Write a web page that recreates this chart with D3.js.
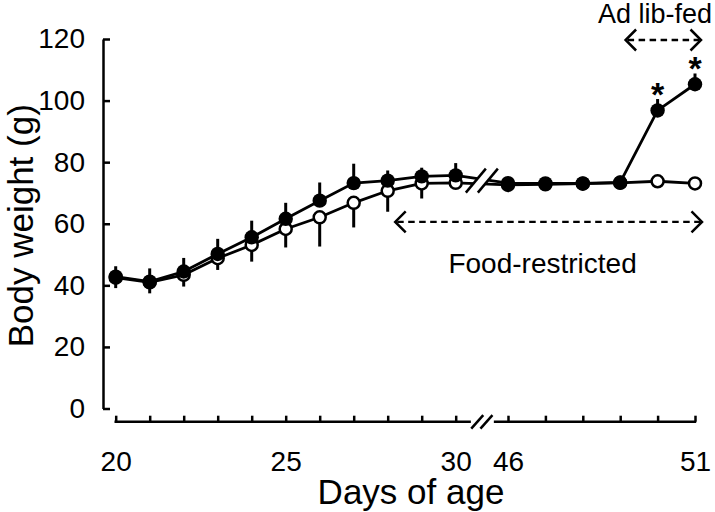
<!DOCTYPE html>
<html>
<head>
<meta charset="utf-8">
<script src="https://cdn.jsdelivr.net/npm/d3@7"></script>
<style>
  html, body { margin: 0; padding: 0; background: #fff; }
  svg { display: block; }
  text { font-family: "Liberation Sans", Arial, sans-serif; fill: #000; }
</style>
</head>
<body>
<svg id="chart" width="715" height="512"></svg>
<script>
// ---- data ----
const daysEarly = [20, 21, 22, 23, 24, 25, 26, 27, 28, 29, 30];
const daysLate = [46, 47, 48, 49, 50, 51];
const days = daysEarly.concat(daysLate);
const adLibMean = [42.8, 41.2, 44.5, 50.2, 55.6, 61.6, 67.5, 73.2, 74.0, 75.4, 75.7, 73.2, 73.1, 73.1, 73.4, 96.8, 105.3];
const adLibSD   = [3.4, 4.3, 4.4, 4.9, 5.4, 5.2, 5.9, 6.3, 3.3, 2.8, 4.0, 1.2, 1.0, 0.8, 1.0, 3.7, 3.5];
const restrictedMean = [42.5, 41.0, 43.4, 48.8, 53.1, 58.3, 62.1, 66.8, 70.7, 73.1, 73.3, 72.6, 72.8, 73.0, 73.3, 73.8, 73.1];
const restrictedSD   = [3.4, 3.6, 3.8, 3.8, 5.4, 6.0, 9.5, 8.0, 6.8, 4.9, 1.8, 1.0, 1.0, 0.8, 0.8, 0.8, 0.8];
const significantDays = [50, 51];
const yTicks = [0, 20, 40, 60, 80, 100, 120];
const xLabelsEarly = [20, 25, 30];
const xLabelsLate = [46, 51];
const yTitle = "Body weight (g)";
const xTitle = "Days of age";
const restrictedLabel = "Food-restricted";
const adLibLabel = "Ad lib-fed";
const restrictedPeriod = [28, 51];
const adLibPeriod = [50, 51];

// ---- scales ----
const svg = d3.select("#chart");
const xE = d3.scaleLinear().domain([20, 30]).range([115.7, 455.7]);
const xL = d3.scaleLinear().domain([46, 51]).range([508, 695]);
const x = d => (d <= 30 ? xE(d) : xL(d));
const y = d3.scaleLinear().domain([0, 120]).range([408.5, 39]);
const axisY = 421.7;
const breakX = (xE(30) + xL(46)) / 2;

// ---- y axis ----
const gy = svg.append("g").attr("transform", `translate(103,0)`)
  .call(d3.axisLeft(y).tickValues(yTicks).tickSizeInner(-7).tickSizeOuter(0).tickPadding(18));
gy.selectAll("path.domain").attr("stroke", "#000").attr("stroke-width", 2.5);
gy.selectAll(".tick line").attr("stroke", "#000").attr("stroke-width", 2.5);
gy.selectAll(".tick text").style("font-size", "28px").attr("font-family", null);

// ---- x axis (two segments) ----
function xAxisSeg(scale, ticks, labels) {
  const g = svg.append("g").attr("transform", `translate(0,${axisY})`)
    .call(d3.axisBottom(scale).tickValues(ticks).tickSizeInner(-6).tickSizeOuter(0).tickPadding(29)
      .tickFormat(d => labels.includes(d) ? d : ""));
  g.select("path.domain").remove();
  g.selectAll(".tick line").attr("stroke", "#000").attr("stroke-width", 2.5);
  g.selectAll(".tick text").style("font-size", "28px").attr("font-family", null);
  return g;
}
xAxisSeg(xE, daysEarly, xLabelsEarly);
xAxisSeg(xL, daysLate, xLabelsLate);
svg.append("line").attr("x1", xE(20) - 1.2).attr("x2", breakX - 11).attr("y1", axisY).attr("y2", axisY)
  .attr("stroke", "#000").attr("stroke-width", 2.5);
svg.append("line").attr("x1", breakX + 12).attr("x2", xL(51) + 1.2).attr("y1", axisY).attr("y2", axisY)
  .attr("stroke", "#000").attr("stroke-width", 2.5);
[-4.6, 4.6].forEach(o => {
  svg.append("line")
    .attr("x1", breakX + o - 6).attr("y1", axisY + 7)
    .attr("x2", breakX + o + 6).attr("y2", axisY - 6.5)
    .attr("stroke", "#000").attr("stroke-width", 2.5);
});

// ---- series lines ----
const line = d3.line().x(d => x(d[0])).y(d => y(d[1]));
const restrictedPts = days.map((d, i) => [d, restrictedMean[i]]);
const adLibPts = days.map((d, i) => [d, adLibMean[i]]);
svg.append("path").attr("d", line(restrictedPts)).attr("fill", "none").attr("stroke", "#000").attr("stroke-width", 2.8);
svg.append("path").attr("d", line(adLibPts)).attr("fill", "none").attr("stroke", "#000").attr("stroke-width", 2.8);

// ---- break on the data lines ----
const by = y(74);
svg.append("polygon")
  .attr("points", [[breakX - 6 - 10, by + 12], [breakX - 6 + 10, by - 12], [breakX + 6 + 10, by - 12], [breakX + 6 - 10, by + 12]].map(p => p.join(",")).join(" "))
  .attr("fill", "#fff");
[-6, 6].forEach(o => {
  svg.append("line")
    .attr("x1", breakX + o - 10).attr("y1", by + 12)
    .attr("x2", breakX + o + 10).attr("y2", by - 12)
    .attr("stroke", "#000").attr("stroke-width", 2.5);
});

// ---- error bars ----
svg.append("g").selectAll("line").data(days).join("line")
  .attr("x1", d => x(d)).attr("x2", d => x(d))
  .attr("y1", (d, i) => y(restrictedMean[i])).attr("y2", (d, i) => y(restrictedMean[i] - restrictedSD[i]))
  .attr("stroke", "#000").attr("stroke-width", 3);
svg.append("g").selectAll("line").data(days).join("line")
  .attr("x1", d => x(d)).attr("x2", d => x(d))
  .attr("y1", (d, i) => y(adLibMean[i])).attr("y2", (d, i) => y(adLibMean[i] + adLibSD[i]))
  .attr("stroke", "#000").attr("stroke-width", 3);

// ---- markers ----
svg.append("g").selectAll("circle").data(restrictedPts).join("circle")
  .attr("cx", d => x(d[0])).attr("cy", d => y(d[1])).attr("r", 6)
  .attr("fill", "#fff").attr("stroke", "#000").attr("stroke-width", 2.5);
svg.append("g").selectAll("circle").data(adLibPts).join("circle")
  .attr("cx", d => x(d[0])).attr("cy", d => y(d[1])).attr("r", 7.2)
  .attr("fill", "#000");

// ---- significance stars ----
svg.append("g").selectAll("text").data(significantDays).join("text")
  .attr("x", d => x(d))
  .attr("y", d => { const i = days.indexOf(d); return y(adLibMean[i] + adLibSD[i]) + 7; })
  .attr("text-anchor", "middle").style("font-size", "34px").style("font-weight", "bold")
  .text("*");

// ---- period arrows ----
function dashedArrow(x1, x2, yy) {
  svg.append("line").attr("x1", x1 + 2).attr("x2", x2 - 2).attr("y1", yy).attr("y2", yy)
    .attr("stroke", "#000").attr("stroke-width", 2.3).attr("stroke-dasharray", "6.5,4.5");
  svg.append("path")
    .attr("d", `M${x1 + 10.5},${yy - 10.5}L${x1},${yy}L${x1 + 10.5},${yy + 10.5}`)
    .attr("fill", "none").attr("stroke", "#000").attr("stroke-width", 2.5);
  svg.append("path")
    .attr("d", `M${x2 - 10.5},${yy - 10.5}L${x2},${yy}L${x2 - 10.5},${yy + 10.5}`)
    .attr("fill", "none").attr("stroke", "#000").attr("stroke-width", 2.5);
}
const rx1 = x(restrictedPeriod[0]) + 7.5;
const rx2 = x(restrictedPeriod[1]) + 7;
const ry = y(60.6);
dashedArrow(rx1, rx2, ry);
svg.append("text").attr("x", (rx1 + rx2) / 2 - 6).attr("y", ry + 51)
  .attr("text-anchor", "middle").style("font-size", "28px").text(restrictedLabel);

const ax1 = x(adLibPeriod[0]) - 32;
const ax2 = x(adLibPeriod[1]) + 6;
const ay = 40;
dashedArrow(ax1, ax2, ay);
svg.append("text").attr("x", 655).attr("y", 23)
  .attr("text-anchor", "middle").style("font-size", "27px").text(adLibLabel);

// ---- axis titles ----
svg.append("text").attr("transform", `translate(33,${(y(0) + y(120)) / 2 + 2}) rotate(-90)`)
  .attr("text-anchor", "middle").style("font-size", "35px").text(yTitle);
svg.append("text").attr("x", 411).attr("y", 504)
  .attr("text-anchor", "middle").style("font-size", "35px").text(xTitle);
</script>
</body>
</html>
